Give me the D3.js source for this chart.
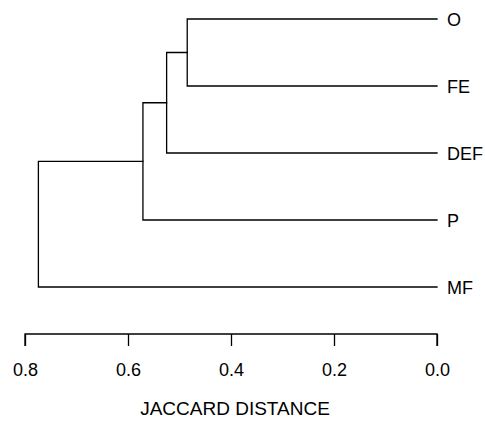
<!DOCTYPE html>
<html>
<head>
<meta charset="utf-8">
<script src="https://cdn.jsdelivr.net/npm/d3@7"></script>
<style>
  html, body { margin: 0; padding: 0; background: #fff; }
  svg { display: block; }
  text { font-family: "Liberation Sans", Arial, Helvetica, sans-serif; fill: #000; }
</style>
</head>
<body>
<svg id="chart" width="485" height="422"></svg>
<script>
// Leaf labels in display order (top to bottom)
const leaves = ["O", "FE", "DEF", "P", "MF"];
// Agglomeration steps, hclust style: negative = leaf index (1-based), positive = earlier step
const mergeLeft  = [-1, 1, 2, 3];
const mergeRight = [-2, -3, -4, -5];
// Jaccard distance at which each step joins
const mergeHeight = [0.485, 0.525, 0.571, 0.774];
// Axis ticks
const ticks = [0.8, 0.6, 0.4, 0.2, 0.0];
const axisTitle = "JACCARD DISTANCE";

const fontSize = 18;
const svg = d3.select("#chart");

const x = d3.scaleLinear().domain([0.8, 0]).range([25, 437]);
const y = d3.scalePoint().domain(leaves).range([19, 287]);

// Resolve node positions
const steps = [];
function nodeOf(ref) {
  if (ref < 0) {
    const name = leaves[-ref - 1];
    return { h: 0, y: y(name) };
  }
  return steps[ref - 1];
}
mergeHeight.forEach((h, i) => {
  const a = nodeOf(mergeLeft[i]);
  const b = nodeOf(mergeRight[i]);
  steps.push({ h, y: (a.y + b.y) / 2, a, b });
});

const g = svg.append("g")
  .attr("fill", "none")
  .attr("stroke", "#000")
  .attr("stroke-width", 1.3)
  .attr("stroke-linecap", "square");

steps.forEach(s => {
  const path = d3.path();
  path.moveTo(x(s.a.h), s.a.y);
  path.lineTo(x(s.h), s.a.y);
  path.lineTo(x(s.h), s.b.y);
  path.lineTo(x(s.b.h), s.b.y);
  g.append("path").attr("d", path.toString());
});

// Leaf labels
svg.append("g").selectAll("text")
  .data(leaves)
  .join("text")
  .attr("x", 447)
  .attr("y", d => y(d))
  .attr("dy", "0.4em")
  .attr("font-size", fontSize)
  .text(d => d);

// Bottom axis
const axis = d3.axisBottom(x)
  .tickValues(ticks)
  .tickFormat(d3.format(".1f"))
  .tickSize(12)
  .tickPadding(12);

const ax = svg.append("g")
  .attr("transform", "translate(0,334)")
  .call(axis);
ax.attr("font-family", null).attr("font-size", null);
ax.select(".domain").attr("d", `M${x(0.8)},12V0H${x(0)}V12`).attr("stroke-width", 1.3);
ax.selectAll(".tick line").attr("stroke-width", 1.3);
ax.selectAll(".tick text")
  .attr("y", 36)
  .attr("dy", "0.36em")
  .attr("font-size", fontSize);

svg.append("text")
  .attr("x", 235)
  .attr("y", 408)
  .attr("dy", "0.36em")
  .attr("text-anchor", "middle")
  .attr("font-size", 19)
  .text(axisTitle);
</script>
</body>
</html>
